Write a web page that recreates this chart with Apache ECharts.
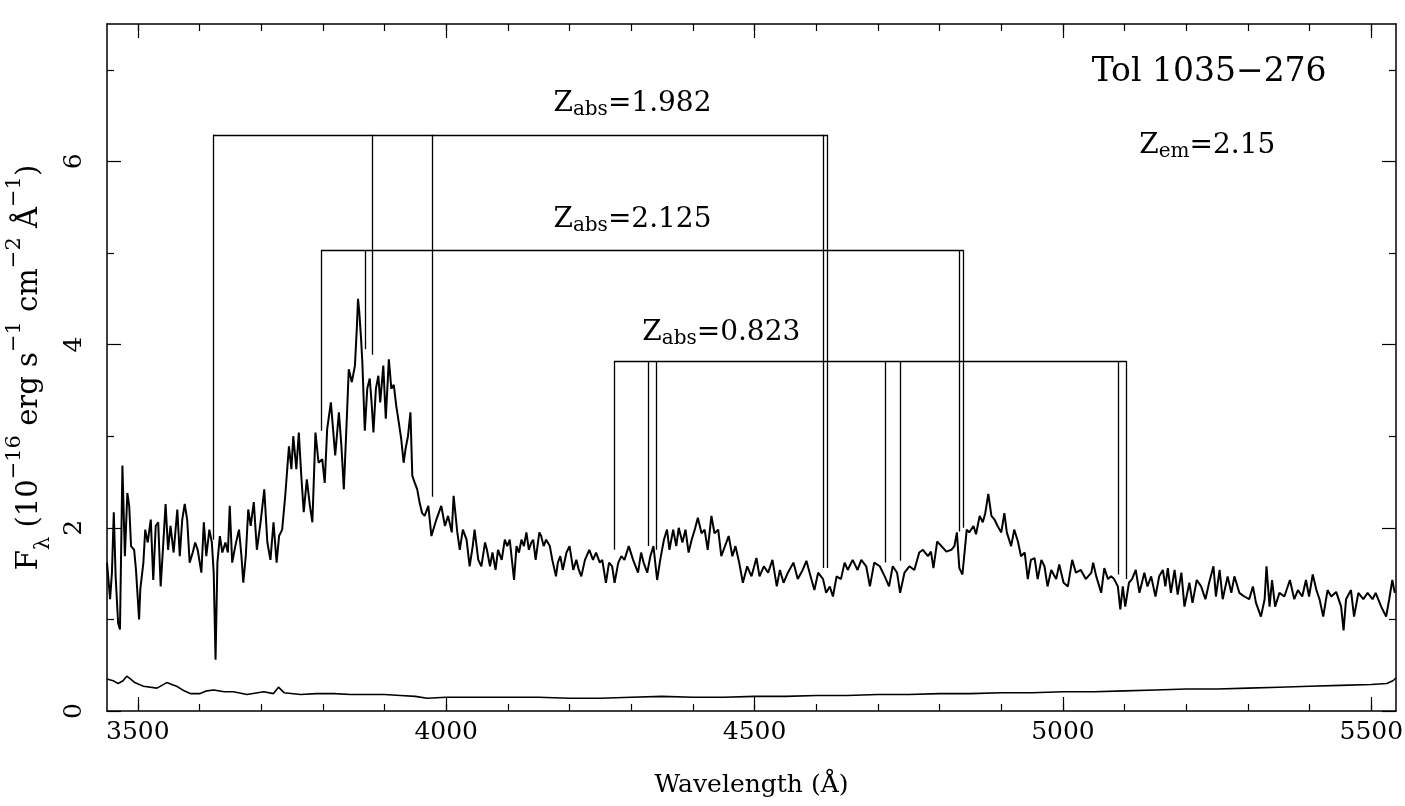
<!DOCTYPE html>
<html>
<head>
<meta charset="utf-8">
<script src="https://cdn.jsdelivr.net/npm/echarts@6/dist/echarts.min.js"></script>
<style>
html,body{margin:0;padding:0;background:#fff;}
#c{width:1405px;height:806px;}
</style>
</head>
<body>
<div id="c"></div>
<script>
// ---------- data ----------
// observed flux spectrum [wavelength (Å), F_lambda]
const fluxPoints = [
[3450,1.62],[3455,1.22],[3458,1.51],[3461,2.17],[3464,1.47],[3468,0.96],[3471,0.89],[3475,2.68],[3479,1.69],[3483,2.38],
[3486,2.24],[3489,1.80],[3494,1.76],[3497,1.54],[3502,1.00],[3504,1.33],[3509,1.62],[3512,1.98],[3516,1.84],[3521,2.09],
[3525,1.43],[3529,2.02],[3533,2.06],[3537,1.36],[3541,1.80],[3545,2.26],[3549,1.76],[3553,2.02],[3558,1.73],[3564,2.20],
[3568,1.69],[3572,2.09],[3576,2.26],[3580,2.09],[3584,1.62],[3589,1.73],[3593,1.84],[3597,1.76],[3603,1.51],[3607,2.06],
[3611,1.69],[3616,1.98],[3620,1.84],[3623,1.51],[3626,0.56],[3629,1.62],[3633,1.91],[3637,1.73],[3642,1.84],[3646,1.73],
[3649,2.24],[3653,1.62],[3658,1.80],[3664,1.98],[3668,1.69],[3671,1.40],[3675,1.69],[3679,2.20],[3683,2.02],[3688,2.28],
[3693,1.76],[3699,2.06],[3705,2.42],[3710,1.84],[3715,1.65],[3720,2.06],[3725,1.62],[3729,1.91],[3734,1.98],[3739,2.35],
[3745,2.89],[3749,2.64],[3752,3.00],[3757,2.64],[3761,3.04],[3765,2.57],[3769,2.17],[3774,2.53],[3779,2.24],[3783,2.06],
[3788,3.04],[3793,2.71],[3799,2.75],[3803,2.49],[3807,3.08],[3813,3.37],[3820,2.79],[3826,3.26],[3830,2.90],[3834,2.42],
[3839,3.22],[3842,3.73],[3847,3.59],
[3852,3.77],[3855,4.17],[3857,4.50],[3859,4.36],[3862,4.06],[3864,3.81],[3868,3.06],[3872,3.52],[3876,3.63],[3879,3.37],
[3882,3.04],[3886,3.52],[3890,3.66],[3893,3.37],[3898,3.77],[3902,3.19],[3907,3.84],[3911,3.52],[3915,3.56],[3919,3.33],
[3924,3.11],[3927,2.97],[3931,2.71],[3934,2.86],[3938,3.00],[3942,3.26],[3945,2.57],[3949,2.49],[3953,2.42],[3957,2.27],
[3961,2.16],[3965,2.13],[3971,2.24],[3976,1.91],
[3984,2.09],[3992,2.24],[3998,2.02],[4003,2.13],[4009,1.95],[4012,2.35],[4018,1.95],[4022,1.76],[4027,1.98],[4033,1.87],
[4038,1.58],[4043,1.80],[4046,1.98],[4052,1.65],[4057,1.58],[4063,1.84],[4066,1.76],[4071,1.58],[4075,1.73],[4080,1.54],
[4084,1.76],[4090,1.65],[4095,1.87],[4099,1.80],[4103,1.87],[4110,1.43],[4114,1.80],[4118,1.73],[4122,1.87],[4126,1.80],
[4130,1.95],[4134,1.76],[4138,1.84],[4141,1.87],[4145,1.65],[4151,1.95],[4154,1.91],[4158,1.80],[4162,1.87],[4168,1.80],
[4172,1.65],[4178,1.47],[4181,1.62],[4185,1.69],[4189,1.54],[4195,1.73],[4200,1.80],[4206,1.54],[4211,1.65],[4215,1.54],
[4219,1.47],[4225,1.65],[4232,1.76],[4238,1.65],[4243,1.73],[4249,1.62],[4253,1.65],[4259,1.40],[4264,1.62],[4269,1.58],
[4273,1.40],[4279,1.62],[4284,1.69],[4289,1.65],[4296,1.80],[4303,1.65],[4311,1.51],
[4316,1.73],[4320,1.62],[4326,1.51],[4331,1.69],[4336,1.80],[4342,1.43],[4347,1.65],[4353,1.87],[4358,1.98],[4362,1.76],
[4368,1.98],[4373,1.80],[4377,2.00],[4383,1.84],[4388,1.98],[4393,1.73],[4398,1.87],[4403,1.98],[4408,2.11],[4414,1.94],
[4419,1.98],[4424,1.76],[4430,2.13],[4435,1.94],[4441,1.98],[4446,1.69],[4452,1.80],[4458,1.91],[4464,1.69],[4469,1.80],
[4475,1.62],[4481,1.40],[4488,1.58],[4495,1.47],[4503,1.67],[4508,1.47],[4515,1.58],[4522,1.51],[4529,1.65],[4536,1.36],
[4541,1.54],[4547,1.40],[4554,1.51],[4563,1.62],[4570,1.44],[4578,1.54],[4584,1.64],[4592,1.44],[4597,1.32],[4603,1.51],
[4611,1.44],[4616,1.29],[4622,1.36],[4627,1.25],[4633,1.47],[4640,1.44],[4646,1.62],[4651,1.54],[4659,1.65],[4667,1.54],
[4673,1.65],[4681,1.58],[4687,1.36],[4694,1.62],[4703,1.58],[4711,1.47],[4718,1.36],[4724,1.58],[4731,1.51],[4736,1.29],
[4743,1.51],[4751,1.58],
[4759,1.54],[4767,1.73],[4773,1.76],[4781,1.69],[4786,1.74],[4790,1.56],[4796,1.85],[4803,1.80],[4811,1.74],[4819,1.76],
[4824,1.80],[4828,1.95],[4832,1.56],[4837,1.49],[4840,1.47],[4844,1.98],[4848,1.95],[4855,2.02],[4859,1.93],[4865,2.13],
[4870,2.06],[4874,2.16],[4879,2.37],[4884,2.13],[4889,2.09],[4894,2.02],[4900,1.95],[4905,2.16],[4909,1.95],[4916,1.80],
[4921,1.98],[4927,1.85],[4932,1.69],[4938,1.73],[4943,1.44],[4948,1.65],[4954,1.67],[4959,1.44],[4965,1.65],[4970,1.58],
[4975,1.36],[4981,1.54],[4989,1.44],[4994,1.60],[5001,1.40],[5008,1.36],[5015,1.65],[5021,1.51],[5029,1.54],[5037,1.44],
[5046,1.51],[5049,1.62],[5054,1.47],[5062,1.29],[5067,1.56],[5073,1.44],[5078,1.47],[5083,1.44],[5089,1.36],[5093,1.11],
[5097,1.36],[5101,1.14],[5107,1.40],[5112,1.44],[5118,1.54],[5124,1.29],[5132,1.51],[5137,1.36],[5143,1.47],[5150,1.25],
[5156,1.47],
[5162,1.54],[5166,1.36],[5170,1.56],[5175,1.29],[5181,1.54],[5186,1.27],[5192,1.51],[5197,1.14],[5205,1.40],[5210,1.18],
[5217,1.43],[5224,1.36],[5231,1.22],[5237,1.40],[5244,1.58],[5248,1.25],[5254,1.54],[5259,1.22],[5267,1.47],[5273,1.29],
[5278,1.47],[5286,1.29],[5294,1.25],[5302,1.22],[5308,1.36],[5313,1.18],[5321,1.03],[5327,1.22],[5330,1.58],[5335,1.14],
[5339,1.43],[5344,1.14],[5351,1.29],[5359,1.25],[5368,1.43],[5375,1.22],[5381,1.32],[5388,1.25],[5394,1.43],[5399,1.25],
[5405,1.49],[5411,1.32],[5416,1.22],[5422,1.03],[5429,1.32],[5435,1.25],[5443,1.30],[5451,1.14],[5455,0.88],[5459,1.22],
[5467,1.32],[5472,1.03],[5479,1.29],[5487,1.22],[5494,1.29],[5502,1.22],[5507,1.29],[5516,1.14],[5524,1.03],[5529,1.22],
[5534,1.43],[5538,1.29]
];

// error (sigma) spectrum
const errorPoints = [
[3450,0.35],[3460,0.33],[3468,0.30],[3476,0.33],[3482,0.38],[3488,0.35],[3495,0.31],[3509,0.27],[3531,0.25],[3547,0.31],
[3555,0.29],[3563,0.27],[3575,0.22],[3585,0.19],[3601,0.19],[3612,0.22],[3623,0.23],[3640,0.21],[3655,0.21],[3677,0.18],
[3704,0.21],[3720,0.19],[3728,0.26],[3737,0.20],[3764,0.18],[3790,0.19],[3818,0.19],[3845,0.18],[3872,0.18],[3900,0.18],
[3926,0.17],[3950,0.16],[3969,0.14],[4000,0.15],[4034,0.15],[4088,0.15],[4150,0.15],[4200,0.14],[4250,0.14],[4300,0.15],
[4350,0.16],[4400,0.15],[4450,0.15],[4500,0.16],[4550,0.16],[4600,0.17],[4650,0.17],[4700,0.18],[4750,0.18],[4800,0.19],
[4850,0.19],[4900,0.20],[4950,0.20],[5000,0.21],[5050,0.21],[5100,0.22],[5150,0.23],[5200,0.24],[5250,0.24],[5300,0.25],
[5350,0.26],[5400,0.27],[5450,0.28],[5500,0.29],[5525,0.30],[5535,0.33],[5540,0.36]
];

// absorption systems: line wavelengths, lower ends of the tick lines, bracket height
const z1982Wave = [3622, 3880, 3977, 4611, 4618];
const z1982Foot = [1.87, 3.89, 2.34, 1.56, 1.56];
const z1982Top = 6.29;
const z2125Wave = [3797, 3868, 4832, 4839];
const z2125Foot = [3.06, 3.95, 1.96, 2.00];
const z2125Top = 5.03;
const z0823Wave = [4272, 4327, 4341, 4712, 4736, 5090, 5103];
const z0823Foot = [1.76, 1.80, 1.76, 1.62, 1.64, 1.49, 1.44];
const z0823Top = 3.82;

const zAbsValues = ['1.982', '2.125', '0.823'];
const zAbsLabelAt = [[4302, 6.62], [4302, 5.35], [4446, 4.12]];
const objectName = 'Tol 1035\u2212276';
const objectLabelAt = [5237, 6.97];
const zEmValue = '2.15';
const zEmLabelAt = [5234, 6.16];

// axis ticks
const xMajor = [3500, 4000, 4500, 5000, 5500];
const xMinor = [3500,3600,3700,3800,3900,4000,4100,4200,4300,4400,4500,4600,4700,4800,4900,5000,5100,5200,5300,5400,5500];
const yMajor = [0, 2, 4, 6];
const yMinor = [1, 3, 5, 7];

// ---------- chart ----------
const FONT = 'DejaVu Serif';
const X_MIN = 3450, X_MAX = 5540, Y_MIN = 0, Y_MAX = 7.5;

function bracket(waves, feet, top) {
  const segs = [{coords: [[waves[0], top], [waves[waves.length - 1], top]]}];
  waves.forEach((w, i) => segs.push({coords: [[w, top], [w, feet[i]]]}));
  return segs;
}

function xAxisDef(pos, values, len, withLabel, withLine) {
  return {
    type: 'value', min: X_MIN, max: X_MAX, position: pos,
    axisLine: {show: withLine, onZero: false, lineStyle: {color: '#000', width: 1.5}},
    axisTick: {show: true, inside: true, length: len, customValues: values, lineStyle: {color: '#000', width: 1.2}},
    axisLabel: {show: withLabel, customValues: values, margin: 9, fontSize: 25, fontFamily: FONT, color: '#000',
                formatter: v => String(v)},
    splitLine: {show: false}
  };
}
function yAxisDef(pos, values, len, withLabel, withLine) {
  return {
    type: 'value', min: Y_MIN, max: Y_MAX, position: pos,
    axisLine: {show: withLine, onZero: false, lineStyle: {color: '#000', width: 1.5}},
    axisTick: {show: true, inside: true, length: len, customValues: values, lineStyle: {color: '#000', width: 1.2}},
    axisLabel: {show: withLabel, customValues: values, rotate: 90, margin: 20, fontSize: 25, fontFamily: FONT, color: '#000',
                formatter: v => String(v)},
    splitLine: {show: false}
  };
}

const xAxes = [
  xAxisDef('bottom', xMajor, 14, true, true),
  xAxisDef('bottom', xMinor, 7, false, false),
  xAxisDef('top', xMajor, 14, false, true),
  xAxisDef('top', xMinor, 7, false, false)
];
Object.assign(xAxes[0], {
  name: 'Wavelength (\u00C5)', nameLocation: 'middle', nameGap: 62,
  nameTextStyle: {fontSize: 25, fontFamily: FONT, color: '#000'}
});
const yAxes = [
  yAxisDef('left', yMajor, 14, true, true),
  yAxisDef('left', yMinor, 7, false, false),
  yAxisDef('right', yMajor, 14, false, true),
  yAxisDef('right', yMinor, 7, false, false)
];
Object.assign(yAxes[0], {
  name: '{m|F}{sub|\u03BB}{m| (10}{sup|\u221216}{m| erg s}{sup|\u22121}{m| cm}{sup|\u22122}{m| \u00C5}{sup|\u22121}{m|)}',
  nameLocation: 'middle', nameGap: 40, nameRotate: 90,
  nameTextStyle: {
    fontFamily: FONT, color: '#000', fontSize: 29,
    rich: {
      m: {fontFamily: FONT, fontSize: 29, color: '#000', lineHeight: 50, verticalAlign: 'middle'},
      sup: {fontFamily: FONT, fontSize: 21, color: '#000', lineHeight: 20, verticalAlign: 'top'},
      sub: {fontFamily: FONT, fontSize: 21, color: '#000', lineHeight: 20, verticalAlign: 'bottom'}
    }
  }
});

const zRich = {
  z: {fontFamily: FONT, fontSize: 28, color: '#000', lineHeight: 30, verticalAlign: 'top'},
  sub: {fontFamily: FONT, fontSize: 20, color: '#000', lineHeight: 20, verticalAlign: 'bottom'},
  t: {fontFamily: FONT, fontSize: 33, color: '#000', lineHeight: 36}
};
function textSeries(point, formatter) {
  return {
    type: 'scatter', data: [point], symbolSize: 0, silent: true,
    itemStyle: {color: '#000', opacity: 1},
    label: {show: true, position: [0, 0], align: 'center', verticalAlign: 'middle',
            formatter: formatter, rich: zRich, color: '#000', opacity: 1, textBorderWidth: 0},
    z: 5
  };
}

const series = [
  {type: 'line', data: fluxPoints, showSymbol: false, symbol: 'none', silent: true,
   lineStyle: {color: '#000', width: 2}, z: 3},
  {type: 'line', data: errorPoints, showSymbol: false, symbol: 'none', silent: true,
   lineStyle: {color: '#000', width: 1.6}, z: 3},
  {type: 'lines', coordinateSystem: 'cartesian2d', polyline: false, silent: true,
   data: [].concat(bracket(z1982Wave, z1982Foot, z1982Top), bracket(z2125Wave, z2125Foot, z2125Top), bracket(z0823Wave, z0823Foot, z0823Top)),
   lineStyle: {color: '#000', width: 1.3, opacity: 1}, z: 2}
];
zAbsValues.forEach((v, i) => series.push(textSeries(zAbsLabelAt[i], '{z|Z}{sub|abs}{z|=' + v + '}')));
series.push(textSeries(objectLabelAt, '{t|' + objectName + '}'));
series.push(textSeries(zEmLabelAt, '{z|Z}{sub|em}{z|=' + zEmValue + '}'));

const chart = echarts.init(document.getElementById('c'), null, {renderer: 'canvas'});
chart.setOption({
  animation: false,
  backgroundColor: '#fff',
  grid: {left: 107, right: 9, top: 24, bottom: 95, containLabel: false, outerBoundsMode: 'none'},
  xAxis: xAxes,
  yAxis: yAxes,
  series: series
});
</script>
</body>
</html>
